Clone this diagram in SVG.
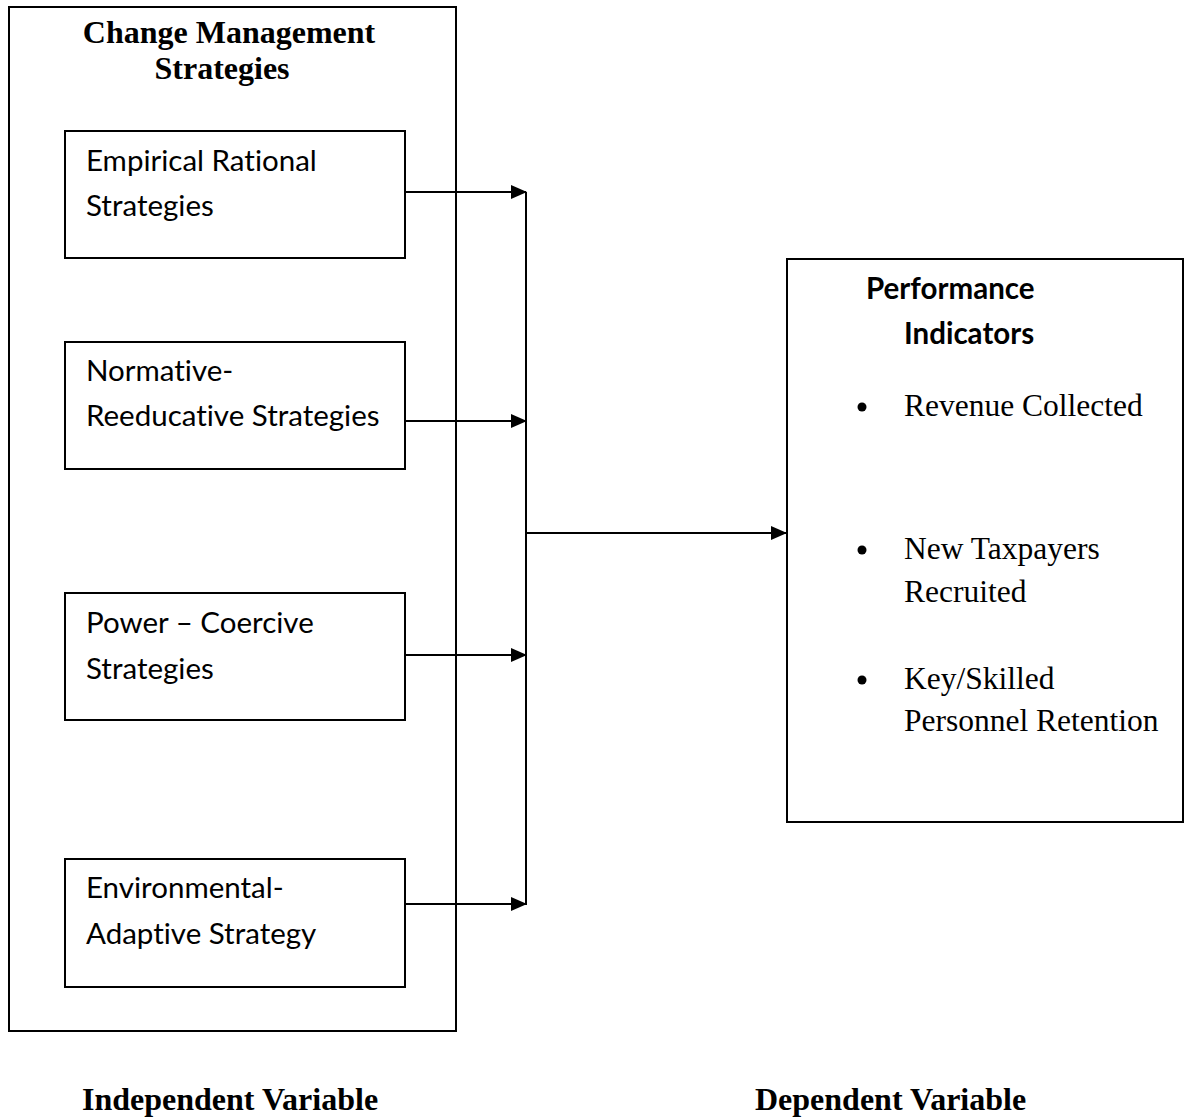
<svg xmlns="http://www.w3.org/2000/svg" width="1186" height="1120" viewBox="0 0 1186 1120">
<style>
.box{fill:none;stroke:#000;stroke-width:2}
.ln{fill:none;stroke:#000;stroke-width:2}
.tb{font-family:"Liberation Serif",serif;font-weight:bold;font-size:32px;fill:#000}
.ts{font-family:"Liberation Serif",serif;font-size:31.5px;fill:#000}
.tc{font-family:Lato,"Open Sans",sans-serif;font-size:29.5px;fill:#000;font-variant-ligatures:none}
.tcb{font-family:Lato,"Open Sans",sans-serif;font-weight:bold;font-size:29.5px;fill:#000;font-variant-ligatures:none}
</style>
<defs>
<marker id="ah" markerWidth="16" markerHeight="14" refX="15" refY="7" orient="auto" markerUnits="userSpaceOnUse">
<path d="M0,0 L16,7 L0,14 Z" fill="#000"/>
</marker>
</defs>
<rect width="1186" height="1120" fill="#fff"/>
<g id="outer">
<rect class="box" x="9" y="7" width="447" height="1024"/>
<text class="tb" x="229" y="43" text-anchor="middle">Change Management</text>
<text class="tb" x="222" y="79" text-anchor="middle">Strategies</text>
</g>
<g id="n1">
<rect class="box" x="65" y="131" width="340" height="127"/>
<text class="tc" x="86" y="171">Empirical Rational</text>
<text class="tc" x="86" y="216">Strategies</text>
</g>
<g id="n2">
<rect class="box" x="65" y="342" width="340" height="127"/>
<text class="tc" x="86" y="381">Normative-</text>
<text class="tc" x="86" y="426">Reeducative Strategies</text>
</g>
<g id="n3">
<rect class="box" x="65" y="593" width="340" height="127"/>
<text class="tc" x="86" y="633">Power – Coercive</text>
<text class="tc" x="86" y="679">Strategies</text>
</g>
<g id="n4">
<rect class="box" x="65" y="859" width="340" height="128"/>
<text class="tc" x="86" y="898">Environmental-</text>
<text class="tc" x="86" y="944">Adaptive Strategy</text>
</g>
<g id="perf">
<rect class="box" x="787" y="259" width="396" height="563"/>
<text class="tcb" x="866" y="299">Performance</text>
<text class="tcb" x="904" y="344">Indicators</text>
<circle cx="862" cy="407" r="4.5"/>
<text class="ts" x="904" y="416">Revenue Collected</text>
<circle cx="862" cy="550" r="4.5"/>
<text class="ts" x="904" y="559">New Taxpayers</text>
<text class="ts" x="904" y="602">Recruited</text>
<circle cx="862" cy="680" r="4.5"/>
<text class="ts" x="904" y="689">Key/Skilled</text>
<text class="ts" x="904" y="731">Personnel Retention</text>
</g>
<g id="connectors">
<line class="ln" x1="405" y1="192" x2="526" y2="192" marker-end="url(#ah)"/>
<line class="ln" x1="405" y1="421" x2="526" y2="421" marker-end="url(#ah)"/>
<line class="ln" x1="405" y1="655" x2="526" y2="655" marker-end="url(#ah)"/>
<line class="ln" x1="405" y1="904" x2="526" y2="904" marker-end="url(#ah)"/>
<line class="ln" x1="526" y1="192" x2="526" y2="905"/>
<line class="ln" x1="526" y1="533" x2="786" y2="533" marker-end="url(#ah)"/>
</g>
<g id="labels">
<text class="tb" x="82" y="1110">Independent Variable</text>
<text class="tb" x="755" y="1110">Dependent Variable</text>
</g>
</svg>
